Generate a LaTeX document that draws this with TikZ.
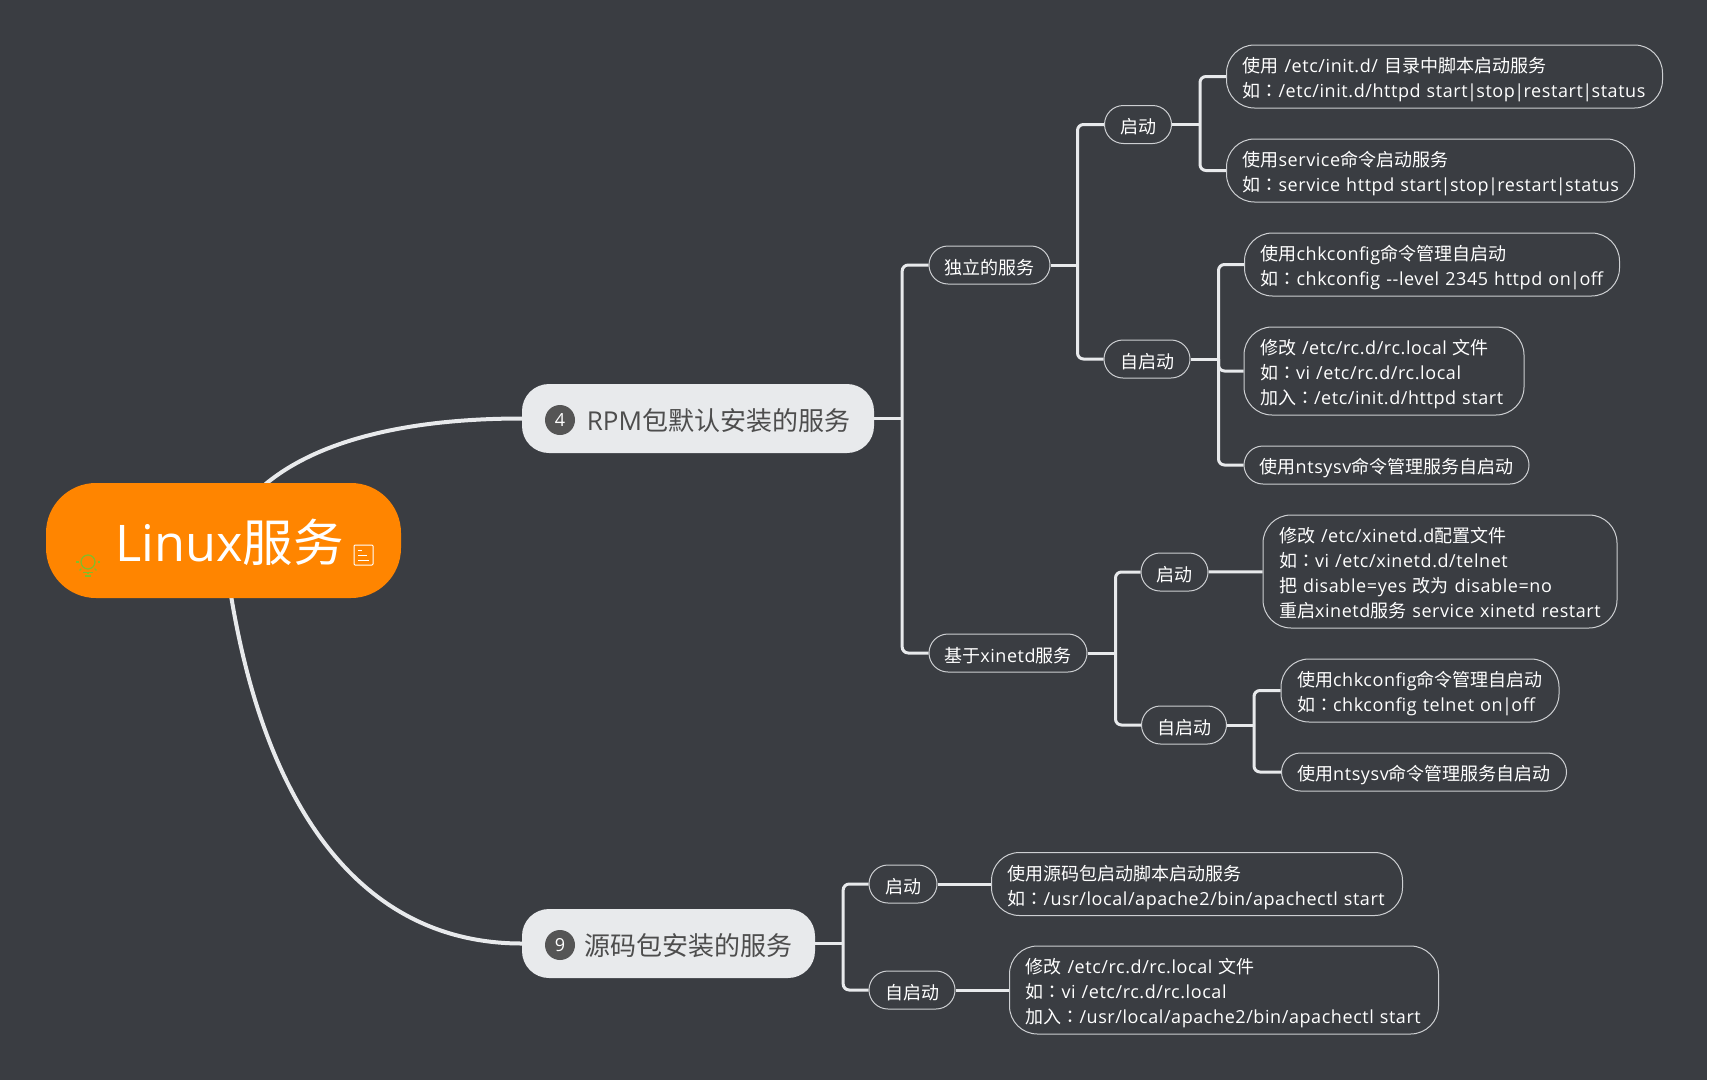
\documentclass[tikz,border=0pt]{standalone}
\usepackage{fontspec}
\setmainfont{Open Sans}
\newfontfamily\spaced[LetterSpace=3.2]{Open Sans}
\newfontfamily\cjk{Noto Sans CJK SC}
\newfontfamily\cjktc{Noto Sans CJK TC}
\newcommand{\cn}{{\cjktc ：}}
\newcommand{\vb}{\kern-0.6pt|\kern-0.6pt}
\usetikzlibrary{calc}
\definecolor{slate}{HTML}{3A3D42}
\definecolor{pale}{HTML}{E8EAEC}
\definecolor{rim}{HTML}{CDCFD2}
\definecolor{inkgray}{HTML}{4D4D4D}
\definecolor{badgegray}{HTML}{555555}
\definecolor{rootorange}{HTML}{FF8500}
\definecolor{bulbgreen}{HTML}{80BF2A}
\pgfdeclarelayer{edges}
\pgfsetlayers{edges,main}
\tikzset{
	pushdown/.code={\def\pushht{#1}\tikzset{execute at begin node={\rule{0pt}{\pushht}}}},
	rootnode/.style={fill=rootorange, text=white, rounded corners=50pt, minimum width=355pt, minimum height=115pt, inner sep=0pt, font=\fontsize{50.5}{50}\selectfont, pushdown=47pt},
	topic/.style={fill=pale, text=inkgray, rounded corners=27pt, minimum height=69pt, inner sep=0pt, font=\fontsize{26}{30}\selectfont, pushdown=26pt},
	badge/.style={circle, fill=badgegray, text=white, minimum size=30pt, inner sep=0pt, font=\fontsize{18}{20}\selectfont},
	pill/.style={draw=rim, line width=1pt, text=white, rounded corners=19pt, minimum height=38pt, inner sep=0pt, font=\fontsize{18}{25}\selectfont\spaced, pushdown=20pt},
	leaf/.style={pill, rounded corners=28pt, align=left, inner xsep=16pt, pushdown=22pt},
	link/.style={draw=pale, line width=3pt, rounded corners=6pt},
	bough/.style={draw=pale, line width=4pt},
}
\newcommand{\fork}[4]{
	\draw[link] (#1.east) -- ++(#2,0) coordinate (#1t);
	\draw[link] (#3.west) -| (#1t) |- (#4.west);
}
\begin{document}
\begin{tikzpicture}[x=1pt,y=-1pt]
	\useasboundingbox (0,0) rectangle (1718,1087);

	\node[rootnode] (root) at (223.5,540.5) {\hspace*{12pt}Linux{\cjk 服务}};
	\node[topic, minimum width=352pt] (rpm) at (698,418.5) {\hspace*{41pt}RPM{\cjk 包默认安装的服务}};
	\node[topic, minimum width=293pt] (src) at (668.5,943.5) {\hspace*{40pt}{\cjk 源码包安装的服务}};
	\node[badge] (rpmno) at (560,420) {4};
	\node[badge] (srcno) at (560,945) {9};

	\node[pill, minimum width=121pt] (duli) at (989.5,265) {\cjk 独立的服务};
	\node[pill, minimum width=158pt] (xin) at (1008,653) {{\cjk 基于}xinetd{\cjk 服务}};
	\node[pill, minimum width=67pt] (duliqi) at (1138,124.5) {\cjk 启动};
	\node[pill, minimum width=86pt] (dulizi) at (1147,359) {\cjk 自启动};
	\node[pill, minimum width=67pt] (xinqi) at (1174.5,572) {\cjk 启动};
	\node[pill, minimum width=85pt] (xinzi) at (1184,725) {\cjk 自启动};
	\node[pill, minimum width=68pt] (srcqi) at (903,884) {\cjk 启动};
	\node[pill, minimum width=86pt] (srczi) at (912,990) {\cjk 自启动};

	\node[leaf, text width=404pt, minimum height=63pt] (a1) at (1444.5,76.5) {{\cjk 使用} /etc/init.d/ {\cjk 目录中脚本启动服务}\\{\cjk 如}\cn/etc/init.d/httpd start\vb stop\vb restart\vb status};
	\node[leaf, text width=376pt, minimum height=63pt] (a2) at (1430.5,170.5) {{\cjk 使用}service{\cjk 命令启动服务}\\\mbox{{\cjk 如}\cn service httpd start\vb stop\vb restart\vb status}};
	\node[leaf, text width=343pt, minimum height=63pt] (b1) at (1432,264.5) {{\cjk 使用}chkconfig{\cjk 命令管理自启动}\\{\cjk 如}\cn chkconfig -{}-level 2345 httpd on\vb off};
	\node[leaf, text width=248pt, minimum height=88pt] (b2) at (1384,371) {{\cjk 修改} /etc/rc.d/rc.local {\cjk 文件}\\{\cjk 如}\cn vi /etc/rc.d/rc.local\\{\cjk 加入}\cn/etc/init.d/httpd start};
	\node[pill, minimum width=285pt, pushdown=21pt] (b3) at (1386.5,465) {{\cjk 使用}ntsysv{\cjk 命令管理服务自启动}};
	\node[leaf, text width=322pt, minimum height=113pt, pushdown=18pt] (c1) at (1440,571.5) {{\cjk 修改} /etc/xinetd.d{\cjk 配置文件}\\{\cjk 如}\cn vi /etc/xinetd.d/telnet\\{\cjk 把} disable=yes {\cjk 改为} disable=no\\{\cjk 重启}xinetd{\cjk 服务} service xinetd restart};
	\node[leaf, text width=246pt, minimum height=63pt] (d1) at (1420,690.5) {{\cjk 使用}chkconfig{\cjk 命令管理自启动}\\{\cjk 如}\cn chkconfig telnet on\vb off};
	\node[pill, minimum width=285pt, pushdown=21pt] (d2) at (1424,772) {{\cjk 使用}ntsysv{\cjk 命令管理服务自启动}};
	\node[leaf, text width=379pt, minimum height=63pt] (e1) at (1197,884) {{\cjk 使用源码包启动脚本启动服务}\\{\cjk 如}\cn/usr/local/apache2/bin/apachectl start};
	\node[leaf, text width=397pt, minimum height=88pt] (f1) at (1224,990) {{\cjk 修改} /etc/rc.d/rc.local {\cjk 文件}\\{\cjk 如}\cn vi /etc/rc.d/rc.local\\{\cjk 加入}\cn/usr/local/apache2/bin/apachectl start};

	% bulb and note marks on the root
	\draw[bulbgreen, line width=1.2pt] (88,562) circle (7);
	\foreach \ang in {0,45,90,135,180} {
		\draw[bulbgreen, line width=1.2pt] ($(88,562)+(\ang:9.5)$) -- ($(88,562)+(\ang:12)$);
	}
	\draw[bulbgreen, line width=1.2pt] (83,572.5) -- (93,572.5) (85,576) -- (91,576);
	\draw[white, line width=1pt, rounded corners=1pt] (354,545) rectangle (373,565);
	\draw[white, line width=1pt] (358,550) -- (362,550) (358,555) -- (367,555) (358,560) -- (369,560);

	\begin{pgfonlayer}{edges}
		\fill[white] (0,0) rectangle (1718,1087);
		\fill[slate] (0,0) rectangle (1707,1080);
		\draw[bough] (root.center) .. controls (255,462) and (360,418.5) .. (rpm.west);
		\draw[bough] (root.center) .. controls (250,780) and (345,943.5) .. (src.west);

		\fork{rpm}{28}{duli}{xin}
		\fork{duli}{27}{duliqi}{dulizi}
		\fork{duliqi}{28}{a1}{a2}
		\fork{dulizi}{28}{b1}{b3}
		\draw[link] (dulizit) |- (b2.west);
		\draw[link] (xinqi) -- (c1);
		\fork{xin}{28}{xinqi}{xinzi}
		\fork{xinzi}{27}{d1}{d2}
		\fork{src}{28}{srcqi}{srczi}
		\draw[link] (srcqi) -- (e1);
		\draw[link] (srczi) -- (f1);
	\end{pgfonlayer}
\end{tikzpicture}
\end{document}
